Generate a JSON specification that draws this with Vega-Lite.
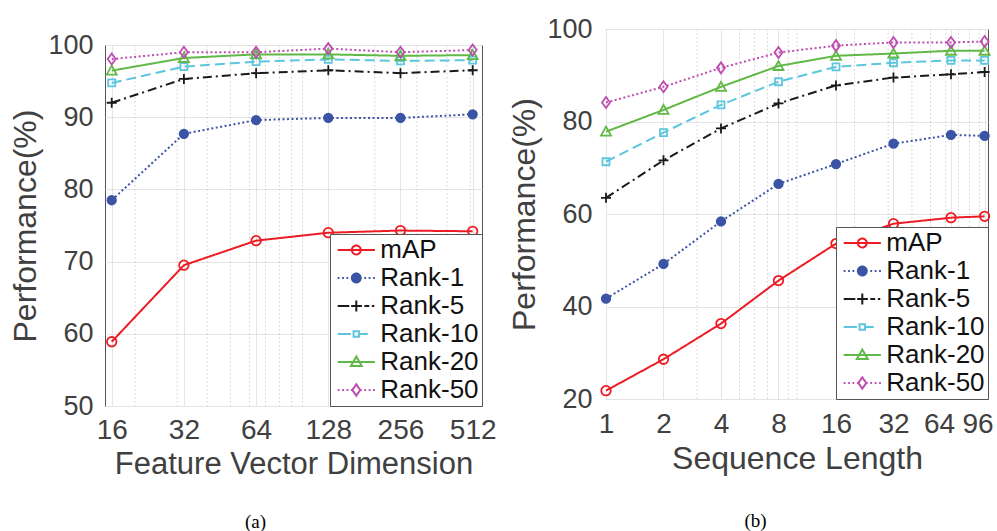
{
  "$schema": "https://vega.github.io/schema/vega-lite/v6.json",
  "padding": {"left": 9, "top": 14, "right": 0, "bottom": 0},
  "spacing": 11,
  "resolve": {
    "scale": {"color": "independent", "shape": "independent", "stroke": "independent", "fill": "independent", "strokeDash": "independent"},
    "legend": {"color": "independent", "shape": "independent", "stroke": "independent", "fill": "independent", "strokeDash": "independent"}
  },
  "datasets": {
    "a": [
      {"x": 16, "s": "mAP", "v": 58.9}, {"x": 32, "s": "mAP", "v": 69.5}, {"x": 64, "s": "mAP", "v": 72.9}, {"x": 128, "s": "mAP", "v": 74.0}, {"x": 256, "s": "mAP", "v": 74.3}, {"x": 512, "s": "mAP", "v": 74.2},
      {"x": 16, "s": "Rank-1", "v": 78.5}, {"x": 32, "s": "Rank-1", "v": 87.7}, {"x": 64, "s": "Rank-1", "v": 89.6}, {"x": 128, "s": "Rank-1", "v": 89.9}, {"x": 256, "s": "Rank-1", "v": 89.9}, {"x": 512, "s": "Rank-1", "v": 90.4},
      {"x": 16, "s": "Rank-5", "v": 92.0}, {"x": 32, "s": "Rank-5", "v": 95.3}, {"x": 64, "s": "Rank-5", "v": 96.1}, {"x": 128, "s": "Rank-5", "v": 96.5}, {"x": 256, "s": "Rank-5", "v": 96.1}, {"x": 512, "s": "Rank-5", "v": 96.5},
      {"x": 16, "s": "Rank-10", "v": 94.75}, {"x": 32, "s": "Rank-10", "v": 97.0}, {"x": 64, "s": "Rank-10", "v": 97.7}, {"x": 128, "s": "Rank-10", "v": 98.0}, {"x": 256, "s": "Rank-10", "v": 97.8}, {"x": 512, "s": "Rank-10", "v": 97.9},
      {"x": 16, "s": "Rank-20", "v": 96.45}, {"x": 32, "s": "Rank-20", "v": 98.2}, {"x": 64, "s": "Rank-20", "v": 98.7}, {"x": 128, "s": "Rank-20", "v": 98.7}, {"x": 256, "s": "Rank-20", "v": 98.5}, {"x": 512, "s": "Rank-20", "v": 98.6},
      {"x": 16, "s": "Rank-50", "v": 98.05}, {"x": 32, "s": "Rank-50", "v": 99.0}, {"x": 64, "s": "Rank-50", "v": 99.0}, {"x": 128, "s": "Rank-50", "v": 99.5}, {"x": 256, "s": "Rank-50", "v": 99.0}, {"x": 512, "s": "Rank-50", "v": 99.3}
    ],
    "b": [
      {"x": 1, "s": "mAP", "v": 21.8}, {"x": 2, "s": "mAP", "v": 28.6}, {"x": 4, "s": "mAP", "v": 36.3}, {"x": 8, "s": "mAP", "v": 45.6}, {"x": 16, "s": "mAP", "v": 53.6}, {"x": 32, "s": "mAP", "v": 57.9}, {"x": 64, "s": "mAP", "v": 59.2}, {"x": 96, "s": "mAP", "v": 59.5},
      {"x": 1, "s": "Rank-1", "v": 41.7}, {"x": 2, "s": "Rank-1", "v": 49.2}, {"x": 4, "s": "Rank-1", "v": 58.4}, {"x": 8, "s": "Rank-1", "v": 66.5}, {"x": 16, "s": "Rank-1", "v": 70.8}, {"x": 32, "s": "Rank-1", "v": 75.2}, {"x": 64, "s": "Rank-1", "v": 77.1}, {"x": 96, "s": "Rank-1", "v": 76.9},
      {"x": 1, "s": "Rank-5", "v": 63.5}, {"x": 2, "s": "Rank-5", "v": 71.6}, {"x": 4, "s": "Rank-5", "v": 78.5}, {"x": 8, "s": "Rank-5", "v": 83.9}, {"x": 16, "s": "Rank-5", "v": 87.8}, {"x": 32, "s": "Rank-5", "v": 89.5}, {"x": 64, "s": "Rank-5", "v": 90.2}, {"x": 96, "s": "Rank-5", "v": 90.7},
      {"x": 1, "s": "Rank-10", "v": 71.3}, {"x": 2, "s": "Rank-10", "v": 77.6}, {"x": 4, "s": "Rank-10", "v": 83.6}, {"x": 8, "s": "Rank-10", "v": 88.6}, {"x": 16, "s": "Rank-10", "v": 91.8}, {"x": 32, "s": "Rank-10", "v": 92.7}, {"x": 64, "s": "Rank-10", "v": 93.2}, {"x": 96, "s": "Rank-10", "v": 93.2},
      {"x": 1, "s": "Rank-20", "v": 77.8}, {"x": 2, "s": "Rank-20", "v": 82.5}, {"x": 4, "s": "Rank-20", "v": 87.5}, {"x": 8, "s": "Rank-20", "v": 92.0}, {"x": 16, "s": "Rank-20", "v": 94.2}, {"x": 32, "s": "Rank-20", "v": 94.7}, {"x": 64, "s": "Rank-20", "v": 95.3}, {"x": 96, "s": "Rank-20", "v": 95.3},
      {"x": 1, "s": "Rank-50", "v": 84.1}, {"x": 2, "s": "Rank-50", "v": 87.5}, {"x": 4, "s": "Rank-50", "v": 91.6}, {"x": 8, "s": "Rank-50", "v": 94.9}, {"x": 16, "s": "Rank-50", "v": 96.4}, {"x": 32, "s": "Rank-50", "v": 97.1}, {"x": 64, "s": "Rank-50", "v": 97.1}, {"x": 96, "s": "Rank-50", "v": 97.3}
    ],
    "ma": [{"m": 20}, {"m": 30}, {"m": 40}, {"m": 50}, {"m": 60}, {"m": 70}, {"m": 80}, {"m": 90}, {"m": 100}, {"m": 200}, {"m": 300}, {"m": 400}, {"m": 500}],
    "mb": [{"m": 3}, {"m": 5}, {"m": 6}, {"m": 7}, {"m": 9}, {"m": 10}, {"m": 20}, {"m": 30}, {"m": 40}, {"m": 50}, {"m": 60}, {"m": 70}, {"m": 80}, {"m": 90}]
  },
  "hconcat": [
    {
      "resolve": {
        "scale": {"color": "independent", "shape": "independent", "stroke": "independent", "fill": "independent", "strokeDash": "independent"},
        "legend": {"color": "independent", "shape": "independent", "stroke": "independent", "fill": "independent", "strokeDash": "independent"}
      },
      "spacing": 0,
      "vconcat": [
        {
          "width": 377,
          "height": 1,
          "data": {"values": []},
          "mark": {"type": "rule"},
          "encoding": {},
          "view": {"stroke": null}
        },
        {
          "width": 377,
          "height": 361,
          "layer": [
            {
              "data": {"name": "ma"},
              "mark": {"type": "rule", "color": "#cdcdcd", "strokeDash": [1.5, 2.5], "strokeWidth": 1},
              "encoding": {"x": {"field": "m", "type": "quantitative", "scale": {"type": "log", "base": 2, "domain": [15, 560], "nice": false, "zero": false}, "axis": null}}
            },
            {
              "data": {"name": "a"},
              "mark": {"type": "line", "strokeWidth": 2},
              "encoding": {
                "x": {"field": "x", "type": "quantitative", "scale": {"type": "log", "base": 2, "domain": [15, 560], "nice": false, "zero": false},
                      "axis": {"orient": "bottom", "values": [16, 32, 64, 128, 256, 512], "title": "Feature Vector Dimension", "labelFontSize": 28, "titleFontSize": 31, "labelPadding": 10, "titlePadding": 5, "grid": true, "labelFlush": false, "labelOverlap": false}},
                "y": {"field": "v", "type": "quantitative", "scale": {"domain": [50, 100], "nice": false, "zero": false},
                      "axis": {"values": [50, 60, 70, 80, 90, 100], "title": "Performance(%)", "labelFontSize": 27, "titleFontSize": 32, "labelPadding": 12, "titlePadding": 5, "grid": true}},
                "color": {"field": "s", "type": "nominal",
                  "scale": {"domain": ["mAP", "Rank-1", "Rank-5", "Rank-10", "Rank-20", "Rank-50"], "range": ["#ed1c24", "#3b54a5", "#1a1a1a", "#5cc6de", "#60b946", "#bd4db0"]},
                  "legend": {"title": null, "orient": "bottom-right", "offset": 0, "zindex": 1, "fillColor": "white", "strokeColor": "#555", "padding": 3,
                    "labelFont": "Liberation Sans", "labelFontSize": 26, "labelColor": "#111", "labelOffset": 11, "labelLimit": 300,
                    "symbolSize": 576, "symbolStrokeWidth": 2, "symbolOffset": 10.3, "rowPadding": 2,
                    "encoding": {"symbols": {
                      "shape": {"value": {"expr": "datum.value === 'mAP' ? 'M-1.55,0H1.55M-0.37,0A0.37,0.37 0 1,0 0.37,0A0.37,0.37 0 1,0 -0.37,0Z' : datum.value === 'Rank-1' ? 'M-1.55,0H-1.4M-1.18,0H-1.03M-0.82,0H-0.67M-0.45,0H-0.33M0.33,0H0.45M0.67,0H0.82M1.03,0H1.18M1.4,0H1.55M-0.37,0A0.37,0.37 0 1,0 0.37,0A0.37,0.37 0 1,0 -0.37,0Z' : datum.value === 'Rank-5' ? 'M-1.55,0H-0.58M-0.43,0H0.47M0,-0.45V0.45M0.67,0H1.08M1.3,0H1.5' : datum.value === 'Rank-10' ? 'M-1.55,0H-0.45M0.25,0H0.95M-0.23,-0.23H0.23V0.23H-0.23Z' : datum.value === 'Rank-20' ? 'M-1.55,0H1.55M-0.45,0.33L0,-0.45L0.45,0.33Z' : 'M-1.55,0H-1.4M-1.18,0H-1.03M-0.82,0H-0.67M-0.45,0H-0.33M0.33,0H0.45M0.67,0H0.82M1.03,0H1.18M1.4,0H1.55M0,-0.47L0.33,0L0,0.47L-0.33,0Z'"}},
                      "fill": {"value": {"expr": "datum.value === 'Rank-1' ? '#3b54a5' : 'transparent'"}},
                      "strokeDash": {"value": [1, 0]}
                    }}
                  }},
                "strokeDash": {"field": "s", "type": "nominal",
                  "scale": {"domain": ["Rank-50", "Rank-20", "Rank-10", "Rank-5", "Rank-1", "mAP"], "range": [[2, 2.5], [1, 0], [10, 5], [9, 4, 2, 4], [2, 2.5], [1, 0]]},
                  "legend": null}
              }
            },
            {
              "data": {"name": "a"},
              "mark": {"type": "point", "size": 100, "opacity": 1, "strokeWidth": 1.8},
              "encoding": {
                "x": {"field": "x", "type": "quantitative", "scale": {"type": "log", "base": 2, "domain": [15, 560], "nice": false, "zero": false},
                      "axis": {"orient": "bottom", "labels": false, "ticks": false, "domain": false, "grid": false, "title": "(a)", "titleFont": "Liberation Serif", "titleFontSize": 19, "titleColor": "#000", "titlePadding": 106, "titleX": 150}},
                "y": {"field": "v", "type": "quantitative"},
                "shape": {"field": "s", "type": "nominal",
                  "scale": {"domain": ["Rank-50", "Rank-20", "Rank-10", "Rank-5", "Rank-1", "mAP"], "range": ["M0,-1.1L0.8,0L0,1.1L-0.8,0Z", "M-1,0.8L0,-1L1,0.8Z", "M-0.7,-0.7H0.7V0.7H-0.7Z", "M-1,0H1M0,-1V1", "M-0.85,0A0.85,0.85 0 1,0 0.85,0A0.85,0.85 0 1,0 -0.85,0Z", "M-0.95,0A0.95,0.95 0 1,0 0.95,0A0.95,0.95 0 1,0 -0.95,0Z"]},
                  "legend": null},
                "stroke": {"field": "s", "type": "nominal",
                  "scale": {"domain": ["Rank-50", "Rank-20", "Rank-10", "Rank-5", "Rank-1", "mAP"], "range": ["#bd4db0", "#60b946", "#5cc6de", "#1a1a1a", "#3b54a5", "#ed1c24"]},
                  "legend": null},
                "fill": {"field": "s", "type": "nominal",
                  "scale": {"domain": ["Rank-50", "Rank-20", "Rank-10", "Rank-5", "Rank-1", "mAP"], "range": ["transparent", "transparent", "transparent", "transparent", "#3b54a5", "transparent"]},
                  "legend": null}
              }
            }
          ],
          "resolve": {"axis": {"x": "independent"}}
        }
      ]
    },
    {
      "width": 382,
      "height": 370,
      "layer": [
        {
          "data": {"name": "mb"},
          "mark": {"type": "rule", "color": "#cdcdcd", "strokeDash": [1.5, 2.5], "strokeWidth": 1},
          "encoding": {"x": {"field": "m", "type": "quantitative", "scale": {"type": "log", "base": 2, "domain": [1, 100], "nice": false, "zero": false}, "axis": null}}
        },
        {
          "data": {"name": "b"},
          "mark": {"type": "line", "strokeWidth": 2},
          "encoding": {
            "x": {"field": "x", "type": "quantitative", "scale": {"type": "log", "base": 2, "domain": [1, 100], "nice": false, "zero": false},
                  "axis": {"orient": "bottom", "values": [1, 2, 4, 8, 16, 32, 64, 96], "title": "Sequence Length", "labelFontSize": 28, "titleFontSize": 32, "labelPadding": 11, "titlePadding": 5, "grid": true, "labelFlush": false, "labelOverlap": false,
                           "labelOffset": {"condition": [{"test": "datum.value == 64", "value": -12}, {"test": "datum.value == 96", "value": -7}], "value": 0}}},
            "y": {"field": "v", "type": "quantitative", "scale": {"domain": [20, 100], "nice": false, "zero": false},
                  "axis": {"values": [20, 40, 60, 80, 100], "title": "Performance(%)", "labelFontSize": 27, "titleFontSize": 32, "labelPadding": 14, "titlePadding": 5, "grid": true}},
            "color": {"field": "s", "type": "nominal",
              "scale": {"domain": ["mAP", "Rank-1", "Rank-5", "Rank-10", "Rank-20", "Rank-50"], "range": ["#ed1c24", "#3b54a5", "#1a1a1a", "#5cc6de", "#60b946", "#bd4db0"]},
              "legend": {"title": null, "orient": "bottom-right", "offset": 0, "zindex": 1, "fillColor": "white", "strokeColor": "#555", "padding": 3,
                "labelFont": "Liberation Sans", "labelFontSize": 26, "labelColor": "#111", "labelOffset": 11, "labelLimit": 300,
                "symbolSize": 576, "symbolStrokeWidth": 2, "symbolOffset": 10.3, "rowPadding": 2,
                "encoding": {"symbols": {
                  "shape": {"value": {"expr": "datum.value === 'mAP' ? 'M-1.55,0H1.55M-0.37,0A0.37,0.37 0 1,0 0.37,0A0.37,0.37 0 1,0 -0.37,0Z' : datum.value === 'Rank-1' ? 'M-1.55,0H-1.4M-1.18,0H-1.03M-0.82,0H-0.67M-0.45,0H-0.33M0.33,0H0.45M0.67,0H0.82M1.03,0H1.18M1.4,0H1.55M-0.37,0A0.37,0.37 0 1,0 0.37,0A0.37,0.37 0 1,0 -0.37,0Z' : datum.value === 'Rank-5' ? 'M-1.55,0H-0.58M-0.43,0H0.47M0,-0.45V0.45M0.67,0H1.08M1.3,0H1.5' : datum.value === 'Rank-10' ? 'M-1.55,0H-0.45M0.25,0H0.95M-0.23,-0.23H0.23V0.23H-0.23Z' : datum.value === 'Rank-20' ? 'M-1.55,0H1.55M-0.45,0.33L0,-0.45L0.45,0.33Z' : 'M-1.55,0H-1.4M-1.18,0H-1.03M-0.82,0H-0.67M-0.45,0H-0.33M0.33,0H0.45M0.67,0H0.82M1.03,0H1.18M1.4,0H1.55M0,-0.47L0.33,0L0,0.47L-0.33,0Z'"}},
                  "fill": {"value": {"expr": "datum.value === 'Rank-1' ? '#3b54a5' : 'transparent'"}},
                  "strokeDash": {"value": [1, 0]}
                }}
              }},
            "strokeDash": {"field": "s", "type": "nominal",
              "scale": {"domain": ["Rank-50", "Rank-20", "Rank-10", "Rank-5", "Rank-1", "mAP"], "range": [[2, 2.5], [1, 0], [10, 5], [9, 4, 2, 4], [2, 2.5], [1, 0]]},
              "legend": null}
          }
        },
        {
          "data": {"name": "b"},
          "mark": {"type": "point", "size": 100, "opacity": 1, "strokeWidth": 1.8},
          "encoding": {
            "x": {"field": "x", "type": "quantitative", "scale": {"type": "log", "base": 2, "domain": [1, 100], "nice": false, "zero": false},
                  "axis": {"orient": "bottom", "labels": false, "ticks": false, "domain": false, "grid": false, "title": "(b)", "titleFont": "Liberation Serif", "titleFontSize": 19, "titleColor": "#000", "titlePadding": 112, "titleX": 149}},
            "y": {"field": "v", "type": "quantitative"},
            "shape": {"field": "s", "type": "nominal",
              "scale": {"domain": ["Rank-50", "Rank-20", "Rank-10", "Rank-5", "Rank-1", "mAP"], "range": ["M0,-1.1L0.8,0L0,1.1L-0.8,0Z", "M-1,0.8L0,-1L1,0.8Z", "M-0.7,-0.7H0.7V0.7H-0.7Z", "M-1,0H1M0,-1V1", "M-0.85,0A0.85,0.85 0 1,0 0.85,0A0.85,0.85 0 1,0 -0.85,0Z", "M-0.95,0A0.95,0.95 0 1,0 0.95,0A0.95,0.95 0 1,0 -0.95,0Z"]},
              "legend": null},
            "stroke": {"field": "s", "type": "nominal",
              "scale": {"domain": ["Rank-50", "Rank-20", "Rank-10", "Rank-5", "Rank-1", "mAP"], "range": ["#bd4db0", "#60b946", "#5cc6de", "#1a1a1a", "#3b54a5", "#ed1c24"]},
              "legend": null},
            "fill": {"field": "s", "type": "nominal",
              "scale": {"domain": ["Rank-50", "Rank-20", "Rank-10", "Rank-5", "Rank-1", "mAP"], "range": ["transparent", "transparent", "transparent", "transparent", "#3b54a5", "transparent"]},
              "legend": null}
          }
        }
      ],
      "resolve": {"axis": {"x": "independent"}}
    }
  ],
  "config": {
    "font": "Liberation Sans",
    "view": {"stroke": "#555", "strokeWidth": 1},
    "axis": {"labelFont": "Liberation Sans", "titleFont": "Liberation Sans", "labelColor": "#404040", "titleColor": "#404040", "titleFontWeight": "normal", "gridColor": "#e4e4e4", "gridWidth": 1, "domain": false, "ticks": false},
    "title": {"font": "Liberation Sans"}
  }
}
